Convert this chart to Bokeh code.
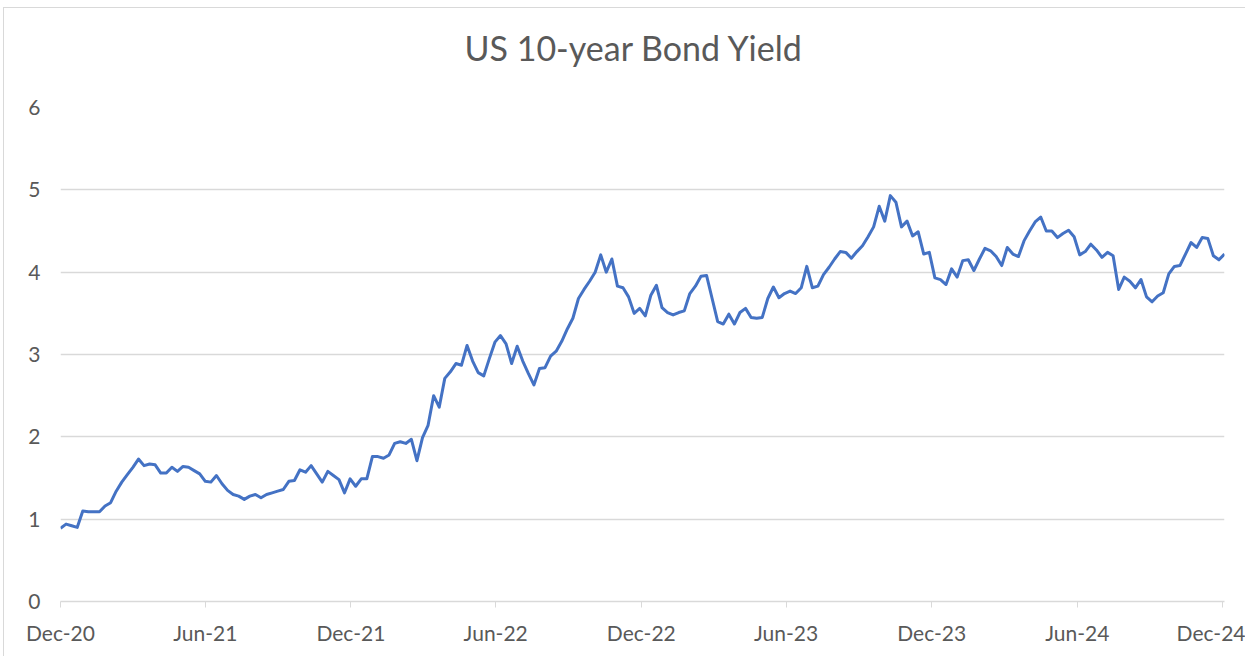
from datetime import datetime, timedelta
import pandas as pd
from bokeh.plotting import figure
from bokeh.models import FixedTicker, DatetimeTickFormatter, Range1d, Title
from bokeh.embed import file_html
from bokeh.resources import INLINE

title_text = "US 10-year Bond Yield"
start_date = "2020-12-01"
yields = [
    0.89, 0.94, 0.92, 0.90, 1.10, 1.09, 1.09, 1.09, 1.16, 1.20, 1.34, 1.45,
    1.54, 1.63, 1.73, 1.65, 1.67, 1.66, 1.56, 1.56, 1.63, 1.58, 1.64, 1.63,
    1.59, 1.55, 1.46, 1.45, 1.53, 1.43, 1.35, 1.30, 1.28, 1.24, 1.28, 1.30,
    1.26, 1.30, 1.32, 1.34, 1.36, 1.46, 1.47, 1.60, 1.57, 1.65, 1.55, 1.45,
    1.58, 1.53, 1.48, 1.32, 1.49, 1.40, 1.49, 1.49, 1.76, 1.76, 1.74, 1.78,
    1.92, 1.94, 1.92, 1.97, 1.71, 1.99, 2.14, 2.50, 2.36, 2.71, 2.79,
    2.89, 2.87, 3.11, 2.92, 2.78, 2.74, 2.95, 3.15, 3.23, 3.13, 2.89, 3.10,
    2.92, 2.77, 2.63, 2.83, 2.84, 2.98, 3.04, 3.16, 3.31, 3.44, 3.68, 3.79,
    3.89, 4.00, 4.21, 4.00, 4.16, 3.83, 3.81, 3.70, 3.50, 3.56, 3.47, 3.72,
    3.84, 3.57, 3.51, 3.48, 3.51, 3.53, 3.74, 3.83, 3.95, 3.96, 3.68, 3.40,
    3.37, 3.49, 3.37, 3.51, 3.56, 3.45, 3.44, 3.45, 3.68, 3.82, 3.69, 3.74,
    3.77, 3.74, 3.81, 4.07, 3.81, 3.83, 3.97, 4.06, 4.16, 4.25,
    4.24, 4.17, 4.25, 4.32, 4.43, 4.55, 4.80, 4.62, 4.93, 4.85, 4.55, 4.62,
    4.44, 4.49, 4.22, 4.24, 3.93, 3.91, 3.85, 4.04, 3.94, 4.14, 4.15, 4.02,
    4.16, 4.29, 4.26, 4.19, 4.08, 4.30, 4.22, 4.19, 4.38, 4.50, 4.61, 4.67,
    4.50, 4.50, 4.42, 4.47, 4.51, 4.43, 4.21, 4.25, 4.34, 4.27, 4.18, 4.24,
    4.20, 3.79, 3.94, 3.89, 3.81, 3.91, 3.70, 3.64, 3.71, 3.75, 3.98, 4.07,
    4.08, 4.22, 4.36, 4.30, 4.42, 4.41, 4.20, 4.15, 4.22,
]
tick_dates = ["2020-12-01", "2021-06-01", "2021-12-01", "2022-06-01", "2022-12-01",
              "2023-06-01", "2023-12-01", "2024-06-01", "2024-12-01"]
tick_labels = ["Dec-20", "Jun-21", "Dec-21", "Jun-22", "Dec-22",
               "Jun-23", "Dec-23", "Jun-24", "Dec-24"]
y_ticks = [0, 1, 2, 3, 4, 5, 6]

d0 = datetime.fromisoformat(start_date)
dates = [d0 + timedelta(weeks=i) for i in range(len(yields))]


def ms(d):
    return pd.Timestamp(d).value // 10**6


TEXT = "#595959"
GRID = "#d9d9d9"
FONT = "Lato"

# the chart area continues below the window and is cut at its bottom edge
p = figure(width=1242, height=700, x_axis_type="datetime",
           output_backend="svg", toolbar_location=None,
           x_range=Range1d(ms(dates[0]), ms(dates[-1])),
           y_range=Range1d(0, 6),
           min_border_left=56, min_border_right=22,
           min_border_top=99, min_border_bottom=107)
p.margin = (7, 0, 0, 3)
p.styles = {"border-left": "1px solid #d9d9d9", "border-top": "1px solid #d9d9d9"}
p.outline_line_color = None
p.background_fill_color = "white"
p.border_fill_color = "white"

spacer = Title(text=" ", text_font=FONT, text_font_size="10px", standoff=11)
p.add_layout(spacer, "above")
t = Title(text=title_text, align="left", offset=404, text_font=FONT,
          text_font_size="34px", text_font_style="normal",
          text_color=TEXT, standoff=30)
p.add_layout(t, "above")

p.line(dates, yields, line_color="#4472C4", line_width=3, line_join="round")

p.xaxis.ticker = FixedTicker(ticks=[ms(d) for d in tick_dates])
fmt = "%b-%y"
p.xaxis.formatter = DatetimeTickFormatter(
    milliseconds=fmt, seconds=fmt, minsec=fmt, minutes=fmt, hourmin=fmt,
    hours=fmt, days=fmt, months=fmt, years=fmt, context=None)
p.xaxis.major_label_overrides = {ms(d): lab for d, lab in zip(tick_dates, tick_labels)}
p.xaxis.axis_line_color = GRID
p.xaxis.axis_line_width = 1.5
p.xaxis.major_tick_line_color = GRID
p.xaxis.major_tick_in = 0
p.xaxis.major_tick_out = 6
p.xaxis.minor_tick_line_color = None
p.xaxis.major_label_standoff = 12
p.xaxis.major_label_text_font = FONT
p.xaxis.major_label_text_font_size = "21px"
p.xaxis.major_label_text_color = TEXT

p.yaxis.ticker = FixedTicker(ticks=y_ticks)
p.yaxis.axis_line_color = None
p.yaxis.major_tick_line_color = None
p.yaxis.minor_tick_line_color = None
p.yaxis.major_tick_out = 0
p.yaxis.major_tick_in = 0
p.yaxis.major_label_standoff = 20
p.yaxis.major_label_text_font = FONT
p.yaxis.major_label_text_font_size = "21px"
p.yaxis.major_label_text_color = TEXT

p.xgrid.grid_line_color = None
p.ygrid.grid_line_color = GRID
p.ygrid.grid_line_width = 1.5

page_style = "{% block preamble %}<style>html, body { overflow: hidden !important; }</style>{% endblock %}"
open("out.html", "w").write(file_html(p, INLINE, template=page_style))
